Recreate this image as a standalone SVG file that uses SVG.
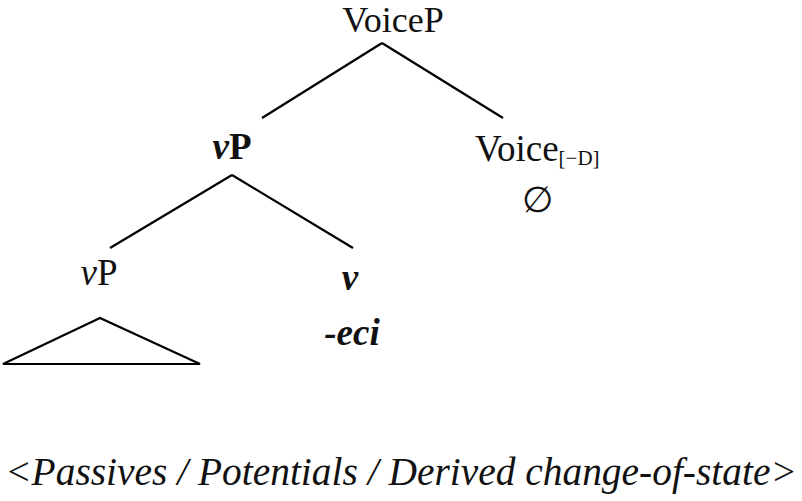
<svg xmlns="http://www.w3.org/2000/svg" width="802" height="501" viewBox="0 0 802 501">
<style>
text{font-family:"Liberation Serif","Times New Roman",serif;fill:#111;}
.n{font-size:37px;text-anchor:middle;}
.b{font-weight:bold;}
.i{font-style:italic;}
line,polygon{stroke:#000;stroke-width:2.2;fill:none;}
</style>
<rect width="802" height="501" fill="#fff"/>
<g id="connectors">
<line x1="382" y1="43" x2="262" y2="118"/>
<line x1="382" y1="43" x2="503" y2="118"/>
<line x1="232" y1="175" x2="110" y2="248"/>
<line x1="232" y1="175" x2="353" y2="248"/>
<polygon points="100,318 3,364 200,364"/>
</g>
<g id="VoiceP"><text class="n" x="393" y="32" style="font-size:36px">VoiceP</text></g>
<g id="vP-bold"><text class="n b" x="232" y="159"><tspan class="i">v</tspan>P</text></g>
<g id="Voice"><text x="475" y="161" style="font-size:37px">Voice<tspan style="font-size:21px" dy="4">[−D]</tspan></text>
<text x="537" y="212" style="font-family:'Liberation Sans',Arial,sans-serif;font-size:36px;text-anchor:middle">∅</text></g>
<g id="vP"><text class="n" x="99" y="285"><tspan class="i">v</tspan>P</text></g>
<g id="v"><text class="n b i" x="350" y="290">v</text>
<text class="n b i" x="352" y="345">-eci</text></g>
<g id="caption"><text class="i" x="5" y="485" style="font-size:39px" textLength="792" lengthAdjust="spacingAndGlyphs">&lt;Passives / Potentials / Derived change-of-state&gt;</text></g>
</svg>
